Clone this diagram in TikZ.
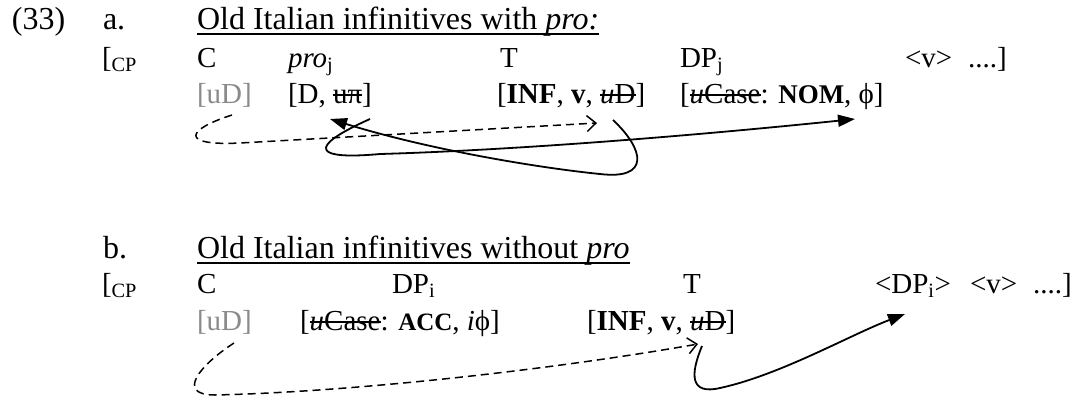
\documentclass[tikz,border=0pt]{standalone}
\usepackage{fontspec}
\setmainfont{Liberation Serif}
\usetikzlibrary{arrows.meta}
\definecolor{featgray}{RGB}{138,138,138}
\newcommand\strk[1]{\setbox0=\hbox{#1}\rlap{\rule[0.25em]{\wd0}{0.07em}}\box0}
\newcommand\bodysize{\fontsize{29}{35}\selectfont}
\newcommand\titlesize{\fontsize{32}{38}\selectfont}
\newcommand\smallbf[1]{{\fontsize{25}{30}\selectfont\bfseries #1}}
\newcommand\midbf[1]{{\fontsize{27}{32}\selectfont\bfseries #1}}
\tikzset{
  lbl/.style={inner sep=0pt, outer sep=0pt, anchor=base west, font=\bodysize},
  ttl/.style={lbl, font=\titlesize},
  gr/.style={lbl, text=featgray},
  agree/.style={line width=1.8pt, -{Triangle[length=17pt,width=12pt]}},
  probe/.style={line width=1.5pt, dash pattern=on 8pt off 5pt, -{Straight Barb[length=9pt,width=16pt,line width=1.5pt]}},
  uline/.style={line width=1.8pt}
}
\begin{document}
\begin{tikzpicture}[x=1pt,y=-1pt]
\useasboundingbox (0,0) rectangle (1074,397);
% ---------- block a
\node[ttl] (ex) at (12,29) {(33)};
\node[ttl] (la) at (103,29) {a.};
\node[ttl] (tia) at (197,29) {Old Italian infinitives with \textit{pro:}};
\draw[uline] ([yshift=-5pt]tia.base west) -- ([yshift=-5pt]tia.base east);
\node[lbl] (cpa) at (102,67) {[\textsubscript{CP}};
\node[lbl] (ca) at (197,67) {C};
\node[lbl] (proa) at (288,67) {\textit{pro}\textsubscript{j}};
\node[lbl] (Ta) at (500,67) {T};
\node[lbl] (dpa) at (680,67) {DP\textsubscript{j}};
\node[lbl] (va) at (905,67) {<v>};
\node[lbl] (dta) at (968,67) {....]};
\node[gr] (uda) at (197,103) {[uD]};
\node[lbl] (fpro) at (288,103) {[D, \strk{uπ}]};
\node[lbl] (fTa) at (497,103) {[\textbf{INF}, \textbf{v}, \strk{\textit{u}D}]};
\node[lbl] (fdp) at (680,103) {[\strk{\textit{u}Case}: \midbf{NOM}, ϕ]};
\coordinate (a1s) at (232,115);
\coordinate (a1e) at (597,123);
\coordinate (a2s) at (370,119);
\coordinate (a2e) at (855,119);
\coordinate (a3s) at (613,120);
\coordinate (a3e) at (330,119);
\draw[probe] (a1s) .. controls (185,130) and (180,146) .. (240,143) -- (a1e);
\draw[agree] (a2s) .. controls (305,148) and (315,160) .. (380,154) .. controls (520,150) and (700,135) .. (a2e);
\draw[agree] (a3s) .. controls (645,150) and (650,180) .. (600,174) .. controls (540,168) and (430,150) .. (a3e);
% ---------- block b
\node[ttl] (lb) at (103,258) {b.};
\node[ttl] (tib) at (197,258) {Old Italian infinitives without \textit{pro}};
\draw[uline] ([yshift=-5pt]tib.base west) -- ([yshift=-5pt]tib.base east);
\node[lbl] (cpb) at (102,293) {[\textsubscript{CP}};
\node[lbl] (cb) at (197,293) {C};
\node[lbl] (dpb) at (392,293) {DP\textsubscript{i}};
\node[lbl] (Tb) at (683,293) {T};
\node[lbl] (dpt) at (875,293) {<DP\textsubscript{i}>};
\node[lbl] (vb) at (970,293) {<v>};
\node[lbl] (dtb) at (1033,293) {....]};
\node[gr] (udb) at (197,330) {[uD]};
\node[lbl] (fdpb) at (300,330) {[\strk{\textit{u}Case}: \smallbf{ACC}, \textit{i}ϕ]};
\node[lbl] (fTb) at (587,330) {[\textbf{INF}, \textbf{v}, \strk{\textit{u}D}]};
\coordinate (b1s) at (234,343);
\coordinate (b1e) at (698,344);
\coordinate (b2s) at (702,346);
\coordinate (b2e) at (905,314);
\draw[probe] (b1s) .. controls (200,365) and (175,395) .. (215,395) .. controls (350,392) and (550,370) .. (b1e);
\draw[agree] (b2s) .. controls (690,375) and (690,395) .. (720,388) .. controls (780,375) and (850,335) .. (b2e);
\end{tikzpicture}
\end{document}
